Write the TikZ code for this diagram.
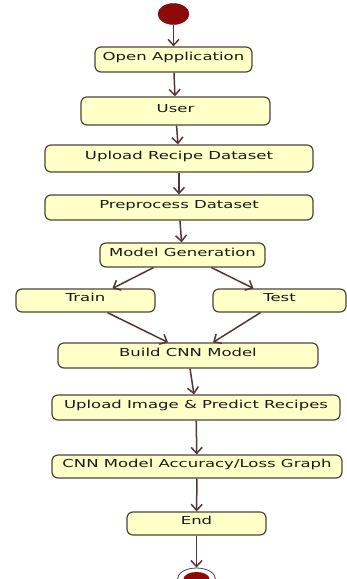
\documentclass[tikz,border=0pt]{standalone}
\usepackage{fontspec}
\newfontfamily\umlfont[FakeStretch=1.5]{DejaVu Sans}
\usetikzlibrary{arrows.meta,shapes.geometric}
\definecolor{actfill}{HTML}{FFFFC8}
\definecolor{actline}{HTML}{4E4438}
\definecolor{flowline}{HTML}{553535}
\definecolor{startred}{HTML}{8E0A0A}

\begin{document}
\begin{tikzpicture}[x=1pt, y=-1pt,
    act/.style={draw=actline, fill=actfill, rounded corners=6pt, line width=1.2pt, inner sep=0pt,
      font=\umlfont\fontsize{11}{13}\selectfont, text=black!90, text height=6pt, text depth=4pt},
    flow/.style={draw=flowline, line width=1.5pt, -{Straight Barb[length=6pt,width=11pt]}}]
  \useasboundingbox (0,0) rectangle (347,579);

  % start and end markers
  \node[ellipse, fill=startred, draw=startred!70!black, minimum width=31pt, minimum height=21pt] (init) at (173.5,14) {};
  \node[ellipse, draw=actline, line width=0.8pt, minimum width=38pt, minimum height=22pt] (final) at (196.5,579) {};
  \node[ellipse, fill=startred, minimum width=26pt, minimum height=14pt] (finaldot) at (196.5,579) {};

  % activities
  \node[act, minimum width=157pt, minimum height=25pt] (open)     at (173.5,59.5)  {Open Application};
  \node[act, minimum width=189pt, minimum height=28pt] (user)     at (175.5,111)   {User};
  \node[act, minimum width=268pt, minimum height=27pt] (upload)   at (179,158.5)   {Upload Recipe Dataset};
  \node[act, minimum width=268pt, minimum height=25pt] (preproc)  at (179,207.5)   {Preprocess Dataset};
  \node[act, minimum width=165pt, minimum height=24pt] (modelgen) at (182.5,255)   {Model Generation};
  \node[act, minimum width=139pt, minimum height=23pt] (train)    at (85.5,300.5)  {Train};
  \node[act, minimum width=133pt, minimum height=23pt] (test)     at (279.5,300.5) {Test};
  \node[act, minimum width=260pt, minimum height=25pt] (build)    at (188,355.5)   {Build CNN Model};
  \node[act, minimum width=288pt, minimum height=25pt] (predict)  at (196,407.5)   {Upload Image \& Predict Recipes};
  \node[act, minimum width=290pt, minimum height=23pt] (graph)    at (197,466.5)   {CNN Model Accuracy/Loss Graph};
  \node[act, minimum width=139pt, minimum height=23pt] (endact)   at (196.5,523.5) {End};

  % control flow
  \draw[flow] (init) -- (open);
  \draw[flow] (open) -- (user);
  \draw[flow] (user) -- (upload);
  \draw[flow] (upload) -- (preproc);
  \draw[flow] (preproc) -- (modelgen);
  \draw[flow] ([xshift=-29pt]modelgen.south) -- ([xshift=27pt]train.north);
  \draw[flow] ([xshift=29pt]modelgen.south) -- ([xshift=-26pt]test.north);
  \draw[flow] ([xshift=22pt]train.south) -- ([xshift=-20pt]build.north);
  \draw[flow] ([xshift=-19pt]test.south) -- ([xshift=25pt]build.north);
  \draw[flow] (build) -- (predict);
  \draw[flow] (predict) -- (graph);
  \draw[flow] (graph) -- (endact);
  \draw[flow] (endact) -- (final);
\end{tikzpicture}
\end{document}
